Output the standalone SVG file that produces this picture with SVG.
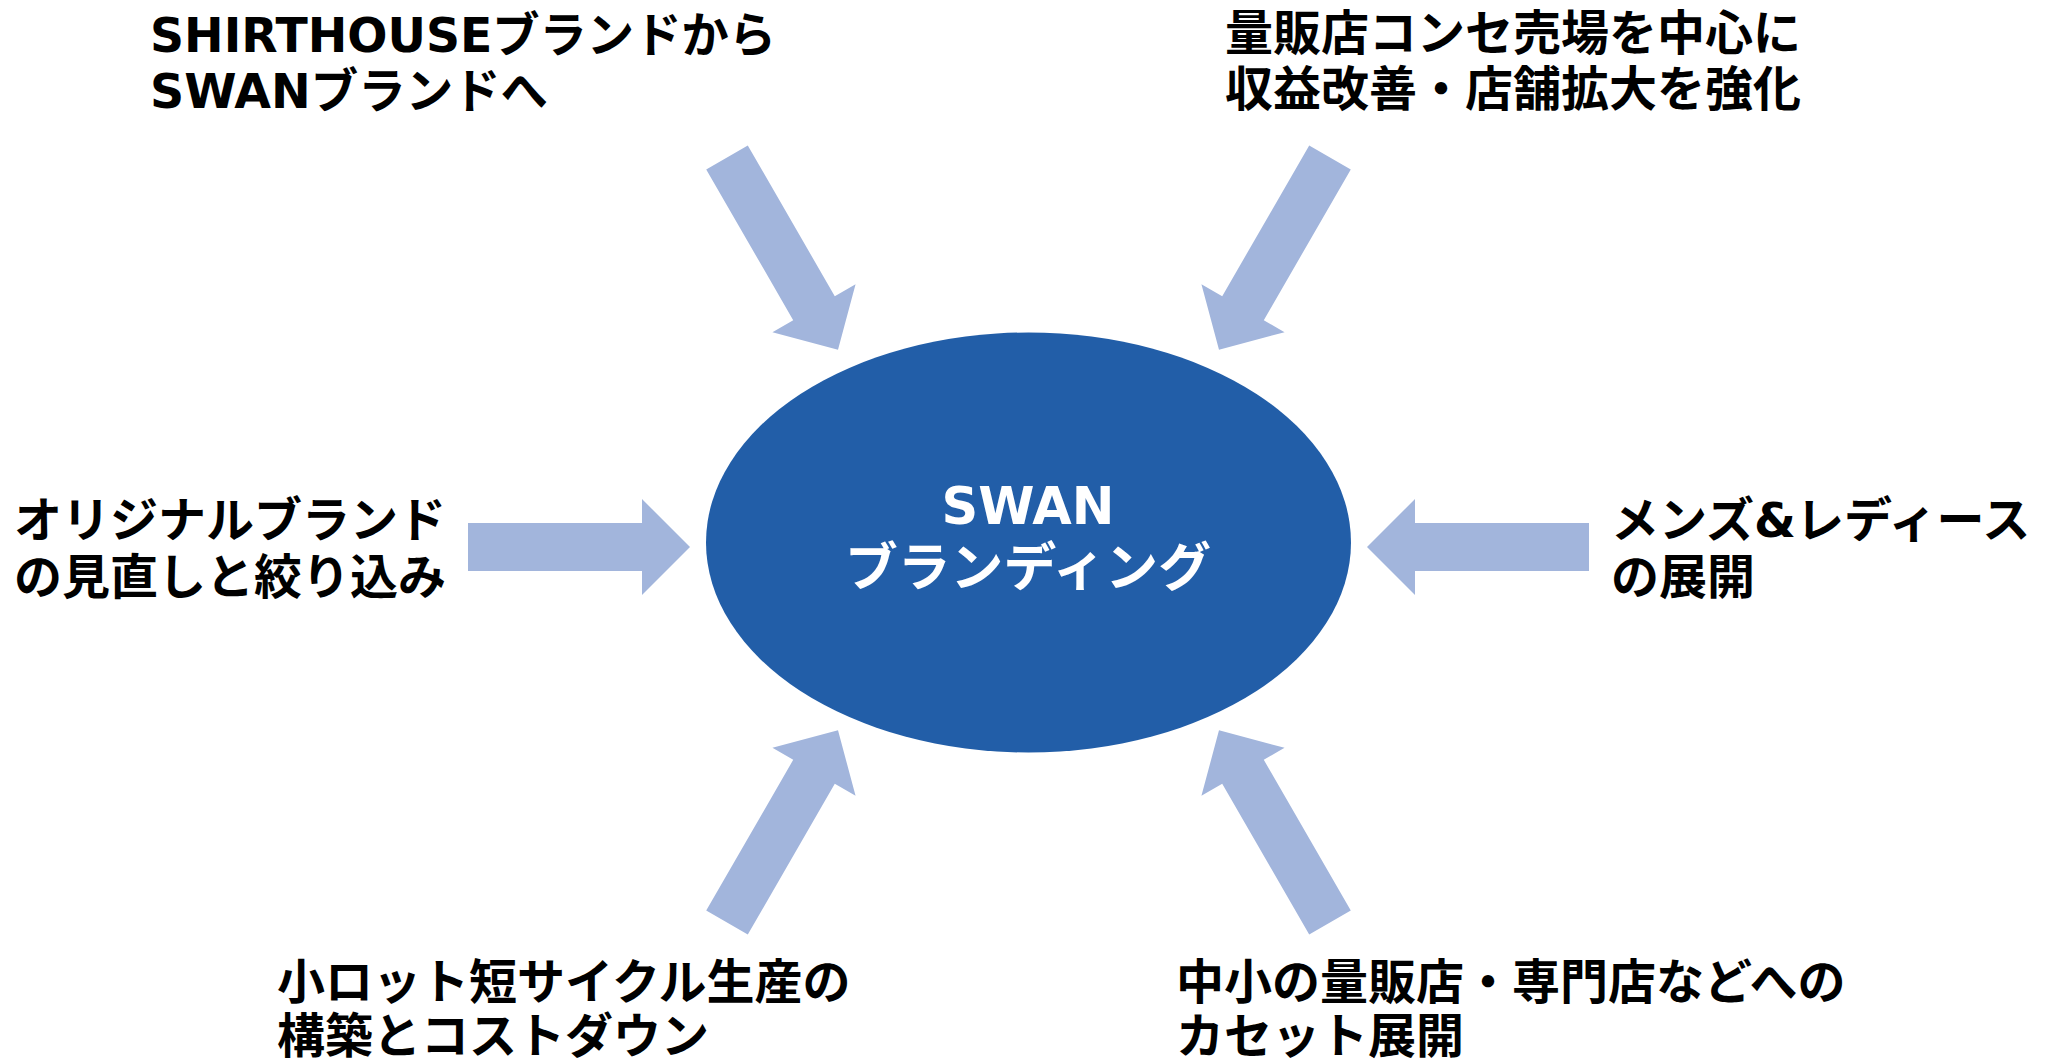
<svg xmlns="http://www.w3.org/2000/svg" width="2060" height="1062" viewBox="0 0 2060 1062">
<style>
.lbl{font-family:"DejaVu Sans","Noto Sans CJK JP",sans-serif;font-weight:bold;font-size:48px;fill:#000}
.ctr{font-family:"DejaVu Sans","Noto Sans CJK JP",sans-serif;font-weight:bold;fill:#fff;text-anchor:middle}
.arr{fill:#A2B5DC}
</style>
<defs>
<polygon id="arrow" points="0,-24 174,-24 174,-48 222,0 174,48 174,24 0,24"/>
</defs>
<rect width="2060" height="1062" fill="#fff"/>
<g id="connectors" class="arr">
<use href="#arrow" transform="translate(727,157.5) rotate(60)"/>
<use href="#arrow" transform="translate(1330,157.5) rotate(120)"/>
<use href="#arrow" transform="translate(468,547)"/>
<use href="#arrow" transform="translate(1589,547) rotate(180)"/>
<use href="#arrow" transform="translate(727,922.5) rotate(-60)"/>
<use href="#arrow" transform="translate(1330,922.5) rotate(-120)"/>
</g>
<g id="center">
<ellipse cx="1028.5" cy="542.5" rx="322.5" ry="210" fill="#225EA8"/>
<text class="ctr" x="1028" y="524" font-size="51">SWAN</text>
<text class="ctr" x="1028" y="586" font-size="52" textLength="366" lengthAdjust="spacingAndGlyphs">ブランディング</text>
</g>
<g id="n-top-left">
<text class="lbl" x="150" y="52" textLength="626" lengthAdjust="spacingAndGlyphs">SHIRTHOUSEブランドから</text>
<text class="lbl" x="150" y="108" textLength="398" lengthAdjust="spacingAndGlyphs">SWANブランドへ</text>
</g>
<g id="n-top-right">
<text class="lbl" x="1225" y="50">量販店コンセ売場を中心に</text>
<text class="lbl" x="1225" y="106">収益改善・店舗拡大を強化</text>
</g>
<g id="n-left">
<text class="lbl" x="14" y="537">オリジナルブランド</text>
<text class="lbl" x="14" y="594">の見直しと絞り込み</text>
</g>
<g id="n-right">
<text class="lbl" x="1611" y="537">メンズ&amp;レディース</text>
<text class="lbl" x="1611" y="594">の展開</text>
</g>
<g id="n-bottom-left">
<text class="lbl" x="277" y="999">小ロット短サイクル生産の</text>
<text class="lbl" x="277" y="1053">構築とコストダウン</text>
</g>
<g id="n-bottom-right">
<text class="lbl" x="1176" y="999">中小の量販店・専門店などへの</text>
<text class="lbl" x="1176" y="1053">カセット展開</text>
</g>
</svg>
